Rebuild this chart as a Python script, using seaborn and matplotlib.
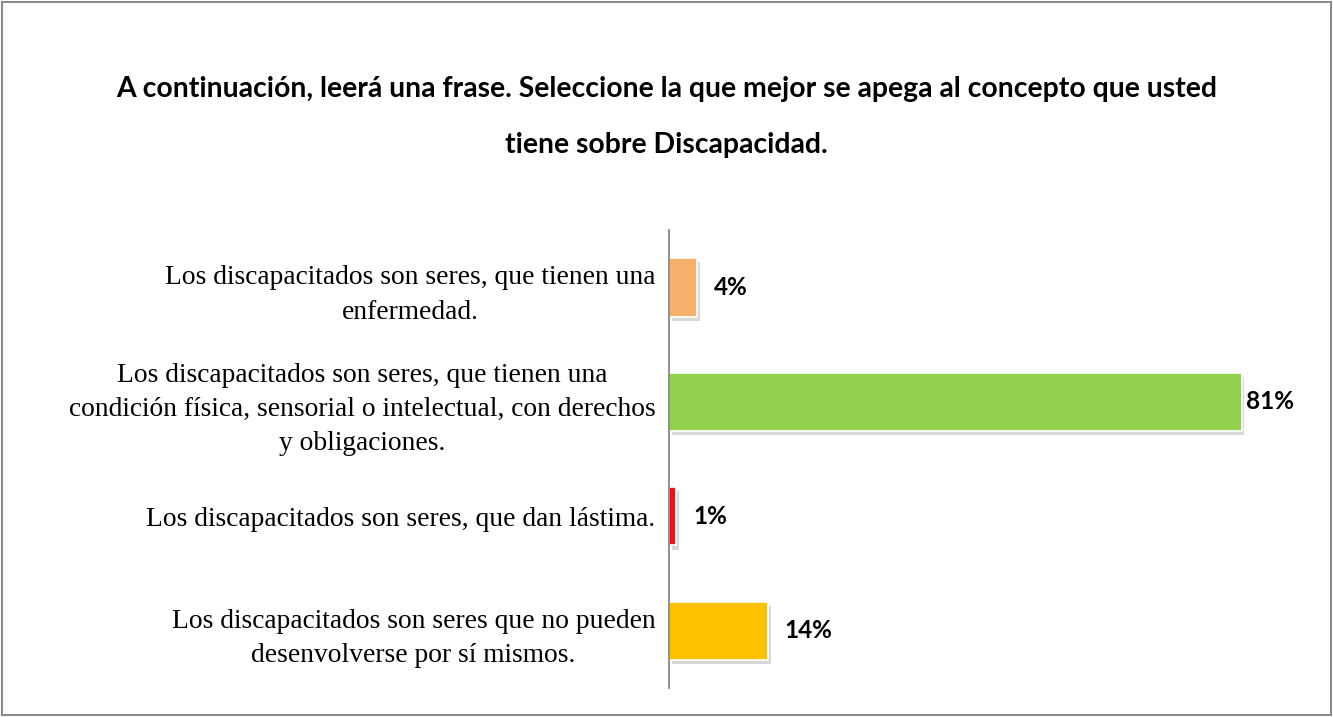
import matplotlib
matplotlib.use('Agg')
import matplotlib.pyplot as plt
import matplotlib.patheffects as pe
from matplotlib.patches import Rectangle
import seaborn as sns
import pandas as pd

# datos
categorias = [
    'Los discapacitados son seres, que tienen una\nenfermedad.',
    'Los discapacitados son seres, que tienen una\ncondición física, sensorial o intelectual, con derechos\ny obligaciones.',
    'Los discapacitados son seres, que dan lástima.',
    'Los discapacitados son seres que no pueden\ndesenvolverse por sí mismos.',
]
porcentajes = [0.04, 0.81, 0.01, 0.14]
etiquetas = ['4%', '81%', '1%', '14%']
colores = ['#F5B06B', '#92D050', '#E8141B', '#FFC000']

titulo = ('A continuación, leerá una frase. Seleccione la que mejor se apega al concepto que usted\n'
          'tiene sobre Discapacidad.')

df = pd.DataFrame({'categoria': categorias, 'valor': porcentajes})

sns.set_theme(style='white')
plt.rcParams['font.family'] = ['Lato', 'DejaVu Sans']

fig = plt.figure(figsize=(13.33, 7.17), dpi=100)
ax = fig.add_axes([0.502, 0.0405, 0.4665, 0.6385])

sns.barplot(data=df, y='categoria', x='valor', hue='categoria', palette=colores,
            saturation=1, legend=False, width=0.51, edgecolor='white', linewidth=1.2, ax=ax)

sombra = [pe.SimplePatchShadow(offset=(2, -3), shadow_rgbFace='#aaaaaa', alpha=0.45), pe.Normal()]
for cont, txt in zip(ax.containers, etiquetas):
    for barra in cont:
        barra.set_path_effects(sombra)
    pad = 3 if txt == '81%' else 12
    ax.bar_label(cont, labels=[txt], padding=pad, fontsize=17.5, fontweight='bold', color='black',
                 family=['Lato', 'DejaVu Sans'])

ax.set_xlim(0, 0.88)
ax.set_ylim(3.5, -0.5)
ax.set_xlabel('')
ax.set_ylabel('')
ax.set_xticks([])
for lado in ['top', 'right', 'bottom']:
    ax.spines[lado].set_visible(False)
ax.spines['left'].set_color('#888888')
ax.spines['left'].set_linewidth(1.3)
ax.tick_params(axis='y', length=0, pad=10)
for t in ax.get_yticklabels():
    t.set_family(['Liberation Serif', 'DejaVu Serif'])
    t.set_fontsize(19.8)
    t.set_color('black')
    t.set_multialignment('center')
    t.set_linespacing(1.48)

fig.text(0.5, 0.837, titulo, ha='center', va='center', fontsize=20.4, fontweight='bold',
         linespacing=2.45, color='black', family=['Lato', 'DejaVu Sans'])

fig.patches.append(Rectangle((0.0015, 0.0025), 0.997, 0.995, transform=fig.transFigure,
                             fill=False, edgecolor='#8c8c8c', linewidth=1.5))

fig.savefig('out.png', dpi=100)
